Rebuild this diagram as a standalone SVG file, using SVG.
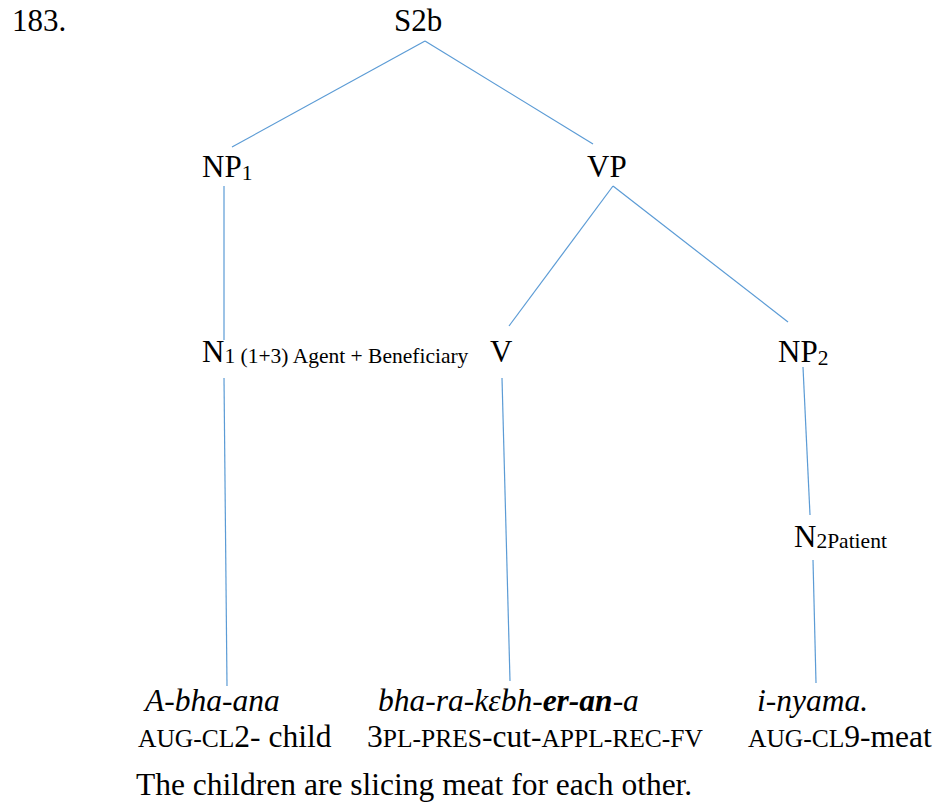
<svg xmlns="http://www.w3.org/2000/svg" width="936" height="809" viewBox="0 0 936 809">
  <style>
    text { font-family: "Liberation Serif", "Times New Roman", serif; fill: #000; }
    .lbl { font-size: 31px; }
    .sub { font-size: 21.5px; }
    .gl { font-size: 31.5px; }
    .sc { font-size: 25.5px; }
    .it { font-style: italic; }
    .b { font-weight: bold; }
    .edge { stroke: #5B9BD5; stroke-width: 1.2; fill: none; }
  </style>
  <rect width="936" height="809" fill="#fff"/>

  <text class="lbl" x="12" y="31">183.</text>

  <g id="connectors">
    <line class="edge" x1="425" y1="41" x2="232" y2="147"/>
    <line class="edge" x1="425" y1="41" x2="593" y2="144"/>
    <line class="edge" x1="224" y1="186" x2="224" y2="340"/>
    <line class="edge" x1="613" y1="186" x2="509" y2="326"/>
    <line class="edge" x1="613" y1="186" x2="788" y2="322"/>
    <line class="edge" x1="224" y1="378" x2="227" y2="686"/>
    <line class="edge" x1="502" y1="378" x2="510" y2="681"/>
    <line class="edge" x1="803" y1="367" x2="810" y2="515"/>
    <line class="edge" x1="813" y1="560" x2="816" y2="683"/>
  </g>

  <g id="S2b"><text class="lbl" x="394" y="31">S2b</text></g>
  <g id="NP1"><text class="lbl" x="202" y="177">NP<tspan class="sub" dy="3">1</tspan></text></g>
  <g id="VP"><text class="lbl" x="587" y="177">VP</text></g>
  <g id="N1"><text class="lbl" x="202" y="362">N<tspan class="sub" dy="1">1 (1+3) Agent + Beneficiary</tspan></text></g>
  <g id="V"><text class="lbl" x="490" y="362">V</text></g>
  <g id="NP2"><text class="lbl" x="778" y="362">NP<tspan class="sub" dy="3">2</tspan></text></g>
  <g id="N2"><text class="lbl" x="794" y="547">N<tspan class="sub" dy="1">2Patient</tspan></text></g>

  <g id="word-agent">
    <text class="gl it" x="145" y="711">A-bha-ana</text>
    <text class="gl" x="138" y="747"><tspan class="sc">AUG-CL</tspan>2- child</text>
  </g>
  <g id="word-verb">
    <text class="gl it" x="378" y="711">bha-ra-kɛbh-<tspan class="b">er-an</tspan>-a</text>
    <text class="gl" x="367" y="747">3<tspan class="sc">PL-PRES</tspan>-cut-<tspan class="sc">APPL-REC-FV</tspan></text>
  </g>
  <g id="word-patient">
    <text class="gl it" x="757" y="711">i-nyama.</text>
    <text class="gl" x="748" y="747"><tspan class="sc">AUG-CL</tspan>9-meat</text>
  </g>

  <text class="gl" x="136" y="795">The children are slicing meat for each other.</text>
</svg>
